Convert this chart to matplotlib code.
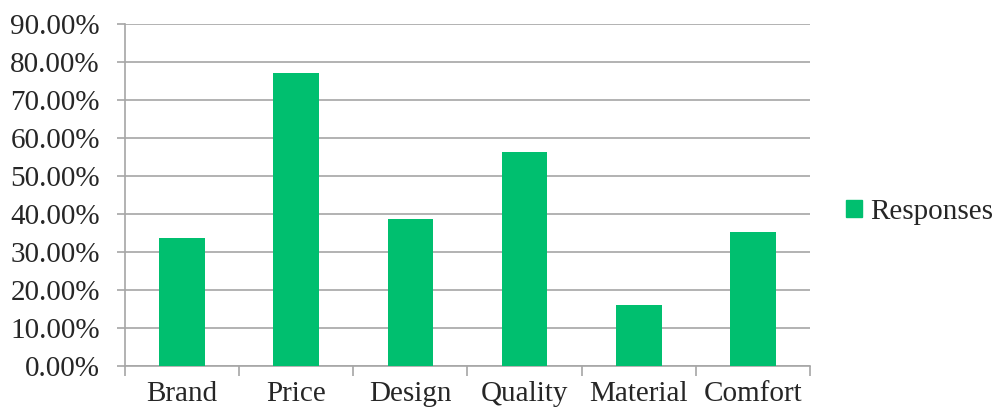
import matplotlib
matplotlib.use('Agg')
import matplotlib.pyplot as plt
import numpy as np
from matplotlib.patches import Patch
from matplotlib.ticker import FuncFormatter, MultipleLocator

categories = ['Brand', 'Price', 'Design', 'Quality', 'Material', 'Comfort']
responses = [33.6, 77.0, 38.7, 56.2, 16.0, 35.3]
series_name = 'Responses'

green = '#00BF6F'
grid_grey = '#A6A6A6'

plt.rcParams['font.family'] = ['Liberation Serif', 'DejaVu Serif']

fig = plt.figure(figsize=(9.94, 4.12), dpi=100)
ax = fig.add_axes([125/994, 46/412, 685/994, 342/412])

x = np.arange(len(categories))
ax.bar(x, responses, width=0.4, color=green, zorder=3)

ax.set_xlim(-0.5, len(categories) - 0.5)
ax.set_ylim(0, 90)
ax.yaxis.set_major_locator(MultipleLocator(10))
ax.yaxis.set_major_formatter(FuncFormatter(lambda v, p: '%.2f%%' % v))
ax.grid(axis='y', color=grid_grey, linewidth=1.2, zorder=0)

ax.set_xticks(x)
ax.set_xticklabels(categories)
ax.set_xticks(np.arange(-0.5, len(categories)), minor=True)
ax.tick_params(axis='x', which='major', length=0, pad=11, labelsize=21, colors='#262626')
ax.tick_params(axis='x', which='minor', length=7, width=1.2, color=grid_grey)
ax.tick_params(axis='y', length=6, width=1.2, color=grid_grey, labelsize=21,
               labelcolor='#262626', pad=12)

for s in ['top', 'right']:
    ax.spines[s].set_visible(False)
for s in ['left', 'bottom']:
    ax.spines[s].set_color(grid_grey)
    ax.spines[s].set_linewidth(1.2)

fig.legend(handles=[Patch(color=green, label=series_name)], loc='center left',
           bbox_to_anchor=(834/994, 1 - 212/412), frameon=False, fontsize=21,
           handlelength=0.55, handleheight=0.55, handletextpad=0.3,
           borderaxespad=0, labelcolor='#262626')

fig.savefig('out.png', dpi=100)
